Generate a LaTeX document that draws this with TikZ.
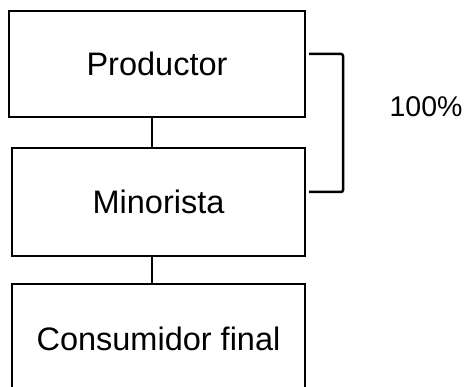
\documentclass[tikz,border=0pt]{standalone}
\usepackage{fontspec}
\setmainfont{Liberation Sans}
\begin{document}
\begin{tikzpicture}[x=1pt,y=1pt,
  box/.style={draw=black, line width=2pt, inner sep=0pt, font=\fontsize{32.5}{38}\selectfont},
  link/.style={draw=black, line width=1.7pt},
  brace/.style={draw=black, line width=2.5pt, rounded corners=2pt}]
\useasboundingbox (0,0) rectangle (465,387);
\clip (0,0) rectangle (465,387);
\node[box, minimum width=296pt, minimum height=106pt] (p) at (157,323) {Productor};
\node[box, minimum width=293pt, minimum height=108pt] (m) at (158.5,185) {Minorista};
\node[box, minimum width=293pt, minimum height=110pt] (c) at (158.5,48) {Consumidor final};
\node[font=\fontsize{28.5}{32}\selectfont] (pct) at (426,280) {100\%};
\draw[link] ([xshift=-5pt]p.south) -- ([xshift=-5pt]p.south |- m.north);
\draw[link] ([xshift=-6.5pt]m.south) -- ([xshift=-6.5pt]m.south |- c.north);
\draw[brace] ([shift={(3pt,10pt)}]p.east) -| (343,195) -- ([shift={(3pt,10pt)}]m.east);
\end{tikzpicture}
\end{document}
